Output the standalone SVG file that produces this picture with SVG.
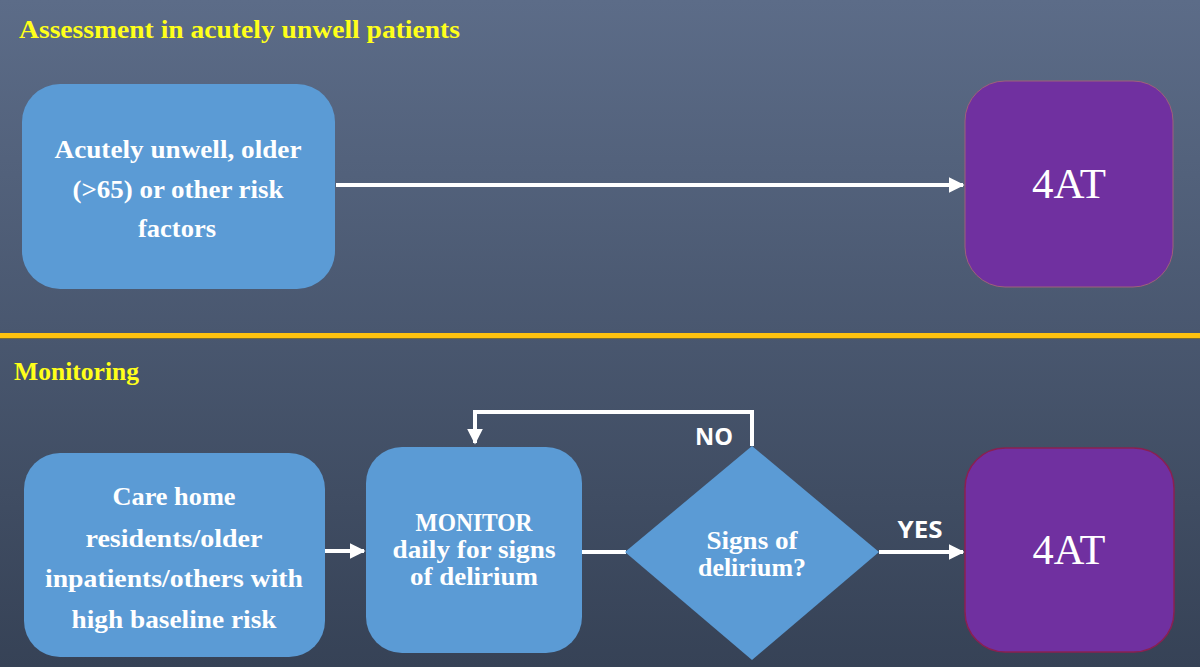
<svg xmlns="http://www.w3.org/2000/svg" width="1200" height="667" viewBox="0 0 1200 667">
<defs>
<linearGradient id="bg" x1="0" y1="0" x2="0" y2="1">
<stop offset="0" stop-color="#5c6c88"/>
<stop offset="1" stop-color="#364256"/>
</linearGradient>
<marker id="ah" viewBox="0 0 10 10" refX="9" refY="5" markerWidth="4" markerHeight="4" orient="auto" markerUnits="strokeWidth">
<path d="M0,0 L10,5 L0,10 z" fill="#ffffff"/>
</marker>
<style>
.title{font-family:"Liberation Serif","Times New Roman",serif;font-weight:bold;font-size:25px;fill:#ffff1a}
.box{fill:#5b9bd5}
.purple{fill:#7030a0}
.t{font-family:"Liberation Serif","Times New Roman",serif;font-weight:bold;font-size:25px;fill:#ffffff;text-anchor:middle}
.big{font-family:"Liberation Serif","Times New Roman",serif;font-size:42px;fill:#ffffff;text-anchor:middle}
.lbl{font-family:"Open Sans","Liberation Sans",sans-serif;font-weight:bold;font-size:24px;fill:#ffffff;text-anchor:middle}
.conn{stroke:#ffffff;stroke-width:4;fill:none}
</style>
</defs>
<rect x="0" y="0" width="1200" height="667" fill="url(#bg)"/>
<text class="title" x="19" y="38" textLength="441" lengthAdjust="spacingAndGlyphs">Assessment in acutely unwell patients</text>
<rect x="0" y="333" width="1200" height="5" fill="#fec20f"/>
<rect x="0" y="338" width="1200" height="1" fill="#7a6a30"/>
<text class="title" x="14" y="380" textLength="125" lengthAdjust="spacingAndGlyphs">Monitoring</text>

<g id="connectors">
<line class="conn" x1="336" y1="185" x2="963" y2="185" marker-end="url(#ah)"/>
<line class="conn" x1="325" y1="551" x2="364" y2="551" marker-end="url(#ah)"/>
<line class="conn" x1="582" y1="552" x2="626" y2="552" stroke-width="5"/>
<polyline class="conn" points="752,446 752,412 475,412 475,443" marker-end="url(#ah)"/>
<line class="conn" x1="879" y1="552" x2="963" y2="552" marker-end="url(#ah)"/>
<text class="lbl" x="714" y="445" textLength="38" lengthAdjust="spacingAndGlyphs">NO</text>
<text class="lbl" x="920" y="538" textLength="45" lengthAdjust="spacingAndGlyphs">YES</text>
</g>

<g id="node-acute">
<rect class="box" x="22" y="84" width="313" height="205" rx="38"/>
<text class="t" x="178" y="158" textLength="247" lengthAdjust="spacingAndGlyphs">Acutely unwell, older</text>
<text class="t" x="178" y="198" textLength="211" lengthAdjust="spacingAndGlyphs">(&gt;65) or other risk</text>
<text class="t" x="177" y="237" textLength="78" lengthAdjust="spacingAndGlyphs">factors</text>
</g>

<g id="node-4at-top">
<rect class="purple" x="965" y="81" width="208" height="206" rx="40" stroke="#a0607a" stroke-width="1"/>
<text class="big" x="1069" y="198" textLength="74" lengthAdjust="spacingAndGlyphs">4AT</text>
</g>

<g id="node-carehome">
<rect class="box" x="24" y="453" width="301" height="204" rx="36"/>
<text class="t" x="174" y="505" textLength="123" lengthAdjust="spacingAndGlyphs">Care home</text>
<text class="t" x="174" y="547" textLength="177" lengthAdjust="spacingAndGlyphs">residents/older</text>
<text class="t" x="174" y="587" textLength="258" lengthAdjust="spacingAndGlyphs">inpatients/others with</text>
<text class="t" x="174" y="628" textLength="205" lengthAdjust="spacingAndGlyphs">high baseline risk</text>
</g>

<g id="node-monitor">
<rect class="box" x="366" y="447" width="216" height="206" rx="36"/>
<text class="t" x="474" y="531" textLength="117" lengthAdjust="spacingAndGlyphs">MONITOR</text>
<text class="t" x="474" y="558" textLength="163" lengthAdjust="spacingAndGlyphs">daily for signs</text>
<text class="t" x="474" y="585" textLength="128" lengthAdjust="spacingAndGlyphs">of delirium</text>
</g>

<g id="node-decision">
<polygon class="box" points="625,552 752,446 879,552 752,660"/>
<text class="t" x="752" y="549" textLength="91" lengthAdjust="spacingAndGlyphs">Signs of</text>
<text class="t" x="752" y="576" textLength="108" lengthAdjust="spacingAndGlyphs">delirium?</text>
</g>

<g id="node-4at-bottom">
<rect class="purple" x="965" y="448" width="209" height="204" rx="40" stroke="#8a2050" stroke-width="1.5"/>
<text class="big" x="1069" y="564" textLength="73" lengthAdjust="spacingAndGlyphs">4AT</text>
</g>
</svg>
